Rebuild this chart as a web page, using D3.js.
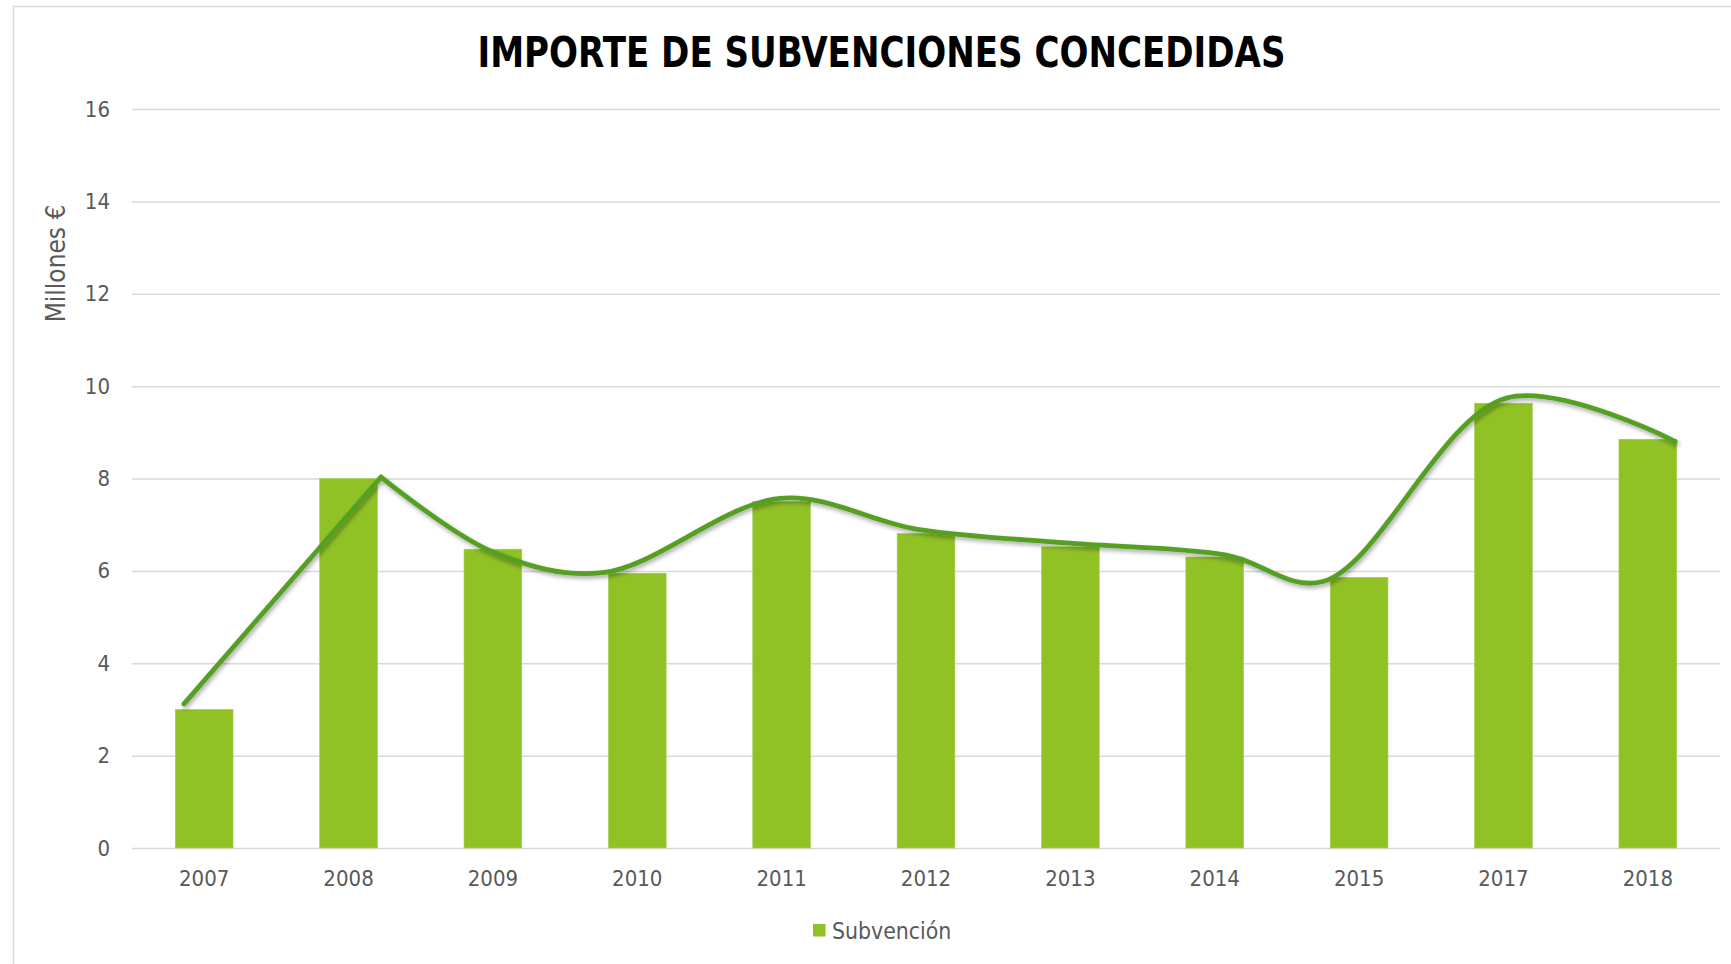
<!DOCTYPE html>
<html>
<head>
<meta charset="utf-8">
<script src="https://cdn.jsdelivr.net/npm/d3@7"></script>
<style>
  body { margin: 0; background: #fff; }
  svg text { font-family: "DejaVu Sans Condensed", "DejaVu Sans", sans-serif; font-stretch: condensed; }
</style>
</head>
<body>
<div id="chart"></div>
<script>
// categories and values
var years = ["2007","2008","2009","2010","2011","2012","2013","2014","2015","2017","2018"];
var subvencion = [3.0, 8.0, 6.47, 5.95, 7.5, 6.81, 6.52, 6.30, 5.86, 9.63, 8.85];
var yTicks = [0, 2, 4, 6, 8, 10, 12, 14, 16];

// the green curve drawn over the bars (position in category units, value)
var curvePos  = [-0.14, 1.225, 2.0, 2.76, 3.99, 4.94, 6.0, 7.08, 7.75, 9.02, 10.19];
var curveVals = [3.12, 8.03, 6.41, 5.96, 7.57, 6.9, 6.6, 6.34, 5.77, 9.74, 8.8];

var W = 1731, H = 964;
var plot = {left: 132, right: 1720, top: 109, bottom: 848};
var barColor = "#90C226", lineColor = "#54A021", textColor = "#595959", gridColor = "#d9d9d9";

var svg = d3.select("#chart").append("svg")
    .attr("width", W)
    .attr("height", H);

var defs = svg.append("defs");
var shadow = defs.append("filter").attr("id", "shadow")
    .attr("x", "-5%").attr("y", "-5%").attr("width", "110%").attr("height", "120%");
shadow.append("feDropShadow")
    .attr("dx", 1.5).attr("dy", 2.5)
    .attr("stdDeviation", 2)
    .attr("flood-color", "#000")
    .attr("flood-opacity", 0.35);

// chart frame
svg.append("rect")
    .attr("x", 13.5).attr("y", 6.5)
    .attr("width", W).attr("height", H)
    .attr("fill", "none")
    .attr("stroke", gridColor)
    .attr("stroke-width", 1.5);

var x = d3.scaleBand().domain(years).range([plot.left, plot.right]).padding(0);
var y = d3.scaleLinear().domain([0, 16]).range([plot.bottom, plot.top]);
var xi = d3.scaleLinear().domain([0, years.length - 1])
    .range([x(years[0]) + x.bandwidth() / 2, x(years[years.length - 1]) + x.bandwidth() / 2]);

// y axis + gridlines
var yAxis = svg.append("g")
    .attr("transform", "translate(" + plot.left + ",0)")
    .call(d3.axisLeft(y).tickValues(yTicks).tickSizeInner(-(plot.right - plot.left)).tickSizeOuter(0).tickPadding(22));
yAxis.select(".domain").remove();
yAxis.selectAll("line").attr("stroke", gridColor).attr("stroke-width", 1.5);
yAxis.selectAll("text").attr("fill", textColor).style("font-size", "22px");

// x axis labels
var xAxis = svg.append("g")
    .attr("transform", "translate(0," + plot.bottom + ")")
    .call(d3.axisBottom(x).tickSize(0).tickPadding(22));
xAxis.select(".domain").remove();
xAxis.selectAll("text").attr("fill", textColor).style("font-size", "22px");

// bars
var bw = x.bandwidth() * 0.4;
svg.append("g").selectAll("rect")
    .data(subvencion)
  .enter().append("rect")
    .attr("x", function(d, i) { return x(years[i]) + (x.bandwidth() - bw) / 2; })
    .attr("y", function(d) { return y(d); })
    .attr("width", bw)
    .attr("height", function(d) { return y(0) - y(d); })
    .attr("fill", barColor)
    .attr("stroke", "#a6cf4f")
    .attr("stroke-width", 0.6);

// curve: straight first stretch, then smoothed
var pts = curvePos.map(function(p, i) { return [xi(p), y(curveVals[i])]; });
var lineG = svg.append("g").attr("filter", "url(#shadow)");
lineG.append("path")
    .attr("d", d3.line()(pts.slice(0, 2)))
    .attr("fill", "none")
    .attr("stroke", lineColor)
    .attr("stroke-width", 4.8)
    .attr("stroke-linecap", "round");
lineG.append("path")
    .attr("d", d3.line().curve(d3.curveCatmullRom.alpha(0.5))(pts.slice(1)))
    .attr("fill", "none")
    .attr("stroke", lineColor)
    .attr("stroke-width", 4.8)
    .attr("stroke-linecap", "round")
    .attr("stroke-linejoin", "round");

// title
svg.append("text")
    .attr("x", 881.5)
    .attr("y", 66.5)
    .attr("text-anchor", "middle")
    .attr("textLength", 808)
    .attr("lengthAdjust", "spacingAndGlyphs")
    .style("font-size", "43.5px")
    .style("font-weight", "bold")
    .attr("fill", "#000")
    .text("IMPORTE DE SUBVENCIONES CONCEDIDAS");

// y axis title
svg.append("text")
    .attr("transform", "translate(65,263.5) rotate(-90)")
    .attr("text-anchor", "middle")
    .attr("fill", textColor)
    .style("font-size", "26px")
    .text("Millones €");

// legend
var legend = svg.append("g").attr("transform", "translate(813,924)");
legend.append("rect")
    .attr("width", 12.5).attr("height", 12.5)
    .attr("fill", barColor);
legend.append("text")
    .attr("x", 19)
    .attr("y", 14.5)
    .attr("fill", textColor)
    .style("font-size", "22.8px")
    .text("Subvención");
</script>
</body>
</html>
